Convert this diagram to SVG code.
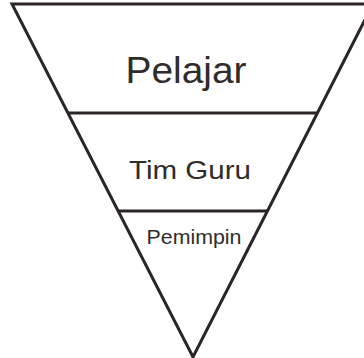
<svg xmlns="http://www.w3.org/2000/svg" width="364" height="358" viewBox="0 0 364 358">
<style>
.ln{fill:none;stroke:#2b2526;stroke-width:3;stroke-linejoin:miter}
.t{font-family:"Liberation Sans",Arial,sans-serif;fill:#2f2c2d;text-anchor:middle}
</style>
<rect width="364" height="358" fill="#fff"/>
<g id="connectors">
<polygon class="ln" points="12,4 373,4 193,357"/>
</g>
<g id="pelajar">
<text class="t" x="186" y="83" font-size="37" textLength="121" lengthAdjust="spacingAndGlyphs">Pelajar</text>
</g>
<g id="tim-guru">
<line class="ln" x1="68" y1="113" x2="317" y2="113"/>
<text class="t" x="190" y="179" font-size="26" textLength="122" lengthAdjust="spacingAndGlyphs">Tim Guru</text>
</g>
<g id="pemimpin">
<line class="ln" x1="119" y1="211" x2="267" y2="211"/>
<text class="t" x="194" y="244" font-size="20" textLength="95" lengthAdjust="spacingAndGlyphs">Pemimpin</text>
</g>
</svg>
